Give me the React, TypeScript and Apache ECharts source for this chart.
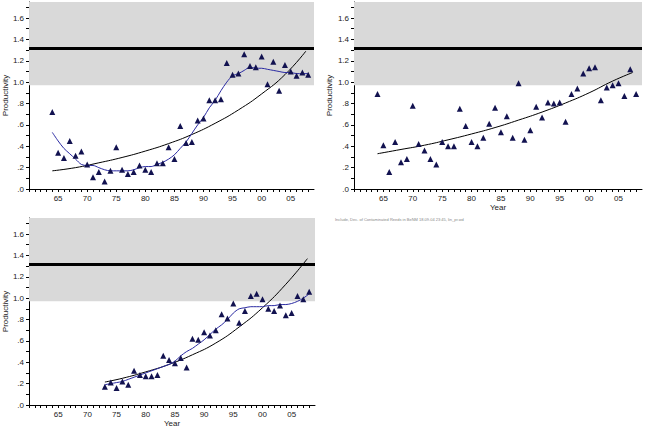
import React, { useEffect, useRef } from "react";
import * as echarts from "echarts";

// ---------- Data ----------
const years1 = [
  1964, 1965, 1966, 1967, 1968, 1969, 1970, 1971, 1972, 1973, 1974, 1975, 1976, 1977, 1978,
  1979, 1980, 1981, 1982, 1983, 1984, 1985, 1986, 1987, 1988, 1989, 1990, 1991, 1992, 1993,
  1994, 1995, 1996, 1997, 1998, 1999, 2000, 2001, 2002, 2003, 2004, 2005, 2006, 2007, 2008,
];
const values1 = [
  0.72, 0.34, 0.29, 0.45, 0.31, 0.35, 0.23, 0.11, 0.16, 0.07, 0.17, 0.39, 0.18, 0.14, 0.16,
  0.22, 0.18, 0.16, 0.24, 0.24, 0.39, 0.28, 0.59, 0.43, 0.44, 0.64, 0.66, 0.83, 0.83, 0.84,
  1.18, 1.07, 1.08, 1.26, 1.15, 1.14, 1.24, 0.98, 1.19, 0.92, 1.16, 1.1, 1.06, 1.09, 1.07,
];
const smooth1 = [
  0.53, 0.45, 0.38, 0.33, 0.28, 0.23, 0.22, 0.22, 0.2, 0.18, 0.17, 0.17, 0.17, 0.17, 0.18,
  0.2, 0.21, 0.21, 0.23, 0.25, 0.28, 0.32, 0.38, 0.44, 0.52, 0.6, 0.67, 0.76, 0.83, 0.92,
  1.0, 1.06, 1.08, 1.11, 1.14, 1.13, 1.13, 1.12, 1.11, 1.1, 1.09, 1.09, 1.08, 1.08, 1.08,
];
const fitYears1 = [1964, 1968, 1972, 1976, 1980, 1984, 1988, 1992, 1996, 2000, 2004, 2007.6];
const fitValues1 = [0.17, 0.2, 0.245, 0.295, 0.355, 0.425, 0.51, 0.615, 0.74, 0.89, 1.07, 1.29];

const years2 = years1;
const values2 = [
  0.89, 0.41, 0.16, 0.44, 0.25, 0.28, 0.78, 0.42, 0.36, 0.28, 0.23, 0.44, 0.4, 0.4, 0.75,
  0.59, 0.44, 0.4, 0.48, 0.61, 0.76, 0.53, 0.68, 0.48, 0.99, 0.46, 0.55, 0.77, 0.67, 0.81,
  0.8, 0.81, 0.63, 0.89, 0.94, 1.08, 1.13, 1.14, 0.83, 0.95, 0.97, 0.99, 0.87, 1.12, 0.89,
];
const fitYears2 = [1964, 1968, 1972, 1976, 1980, 1984, 1988, 1992, 1996, 2000, 2004, 2007.4];
const fitValues2 = [0.33, 0.37, 0.41, 0.46, 0.515, 0.575, 0.645, 0.72, 0.805, 0.9, 1.01, 1.09];

const years3 = [
  1973, 1974, 1975, 1976, 1977, 1978, 1979, 1980, 1981, 1982, 1983, 1984, 1985, 1986, 1987,
  1988, 1989, 1990, 1991, 1992, 1993, 1994, 1995, 1996, 1997, 1998, 1999, 2000, 2001, 2002,
  2003, 2004, 2005, 2006, 2007, 2008,
];
const values3 = [
  0.17, 0.21, 0.16, 0.22, 0.19, 0.32, 0.28, 0.27, 0.27, 0.28, 0.46, 0.42, 0.39, 0.44, 0.35,
  0.62, 0.61, 0.68, 0.65, 0.7, 0.85, 0.81, 0.95, 0.77, 0.88, 1.02, 1.04, 0.99, 0.9, 0.88,
  0.93, 0.84, 0.86, 1.02, 0.99, 1.06,
];
const smooth3 = [
  0.19, 0.2, 0.21, 0.22, 0.24, 0.26, 0.28, 0.3, 0.32, 0.34, 0.36, 0.38, 0.41, 0.46, 0.5,
  0.53, 0.57, 0.61, 0.66, 0.71, 0.75, 0.8, 0.86, 0.9, 0.91, 0.92, 0.92, 0.92, 0.93, 0.93,
  0.94, 0.94, 0.95, 0.97, 1.0, 1.04,
];
const fitYears3 = [1973, 1976, 1980, 1984, 1988, 1992, 1996, 2000, 2004, 2007.7];
const fitValues3 = [0.215, 0.25, 0.31, 0.38, 0.47, 0.58, 0.73, 0.91, 1.13, 1.37];

const bandLow = 0.97;
const bandHigh = 1.75;
const targetLine = 1.32;
const xMin = 1960;
const xMax = 2009;
const yMin = 0;
const yMax = 1.75;

const footnote = "Include, Dec. of Contaminated Reeds in BeNM 18.09.04 23:45, lin_pr.wd";

// ---------- Helpers ----------
const pairs = (xs: number[], ys: number[]) => xs.map((x, i) => [x, ys[i]]);

const yLabel = (v: number) => {
  const t = Math.round(v * 10);
  if (t % 2 !== 0) return "";
  const s = (t / 10).toFixed(1);
  return s.startsWith("0") ? s.slice(1) : s;
};
const xLabel = (v: number) => {
  const r = Math.round(v);
  if (r % 5 !== 0 || r === xMin) return "";
  return String(r % 100).padStart(2, "0");
};

const FONT = "Liberation Sans";
const MARK = "#121250";
const BLUE = "#2a2aa2";

export default function App() {
  const ref = useRef<HTMLDivElement>(null);

  useEffect(() => {
    document.body.style.margin = "0";
    if (!ref.current) return;
    const chart = echarts.init(ref.current, undefined, { renderer: "svg" });

    const grids = [
      { left: 28, top: 2, width: 286, height: 187 },
      { left: 354, top: 2, width: 288, height: 187 },
      { left: 27, top: 218, width: 288, height: 188 },
    ];
    const showYear = [false, true, true];

    const xAxes = grids.map((_, i) => ({
      type: "value",
      gridIndex: i,
      min: xMin,
      max: xMax,
      interval: 1,
      name: showYear[i] ? "Year" : "",
      nameLocation: "middle",
      nameGap: 14,
      nameTextStyle: { fontFamily: FONT, fontSize: 8, color: "#222" },
      axisLine: { show: true, onZero: false, lineStyle: { color: "#000", width: 1 } },
      axisTick: { show: true, length: 3, lineStyle: { color: "#000", width: 1 } },
      axisLabel: {
        formatter: xLabel,
        fontFamily: FONT,
        fontSize: 8,
        color: "#222",
        margin: 5,
        showMaxLabel: false,
      },
      splitLine: { show: false },
    }));

    const yAxes = grids.map((_, i) => ({
      type: "value",
      gridIndex: i,
      min: yMin,
      max: yMax,
      interval: 0.1,
      name: "Productivity",
      nameLocation: "middle",
      nameRotate: 90,
      nameGap: 18,
      nameTextStyle: { fontFamily: FONT, fontSize: 8, color: "#222" },
      axisLine: { show: true, lineStyle: { color: "#000", width: 1 } },
      axisTick: { show: true, length: 3, lineStyle: { color: "#000", width: 1 } },
      axisLabel: {
        formatter: yLabel,
        fontFamily: FONT,
        fontSize: 8,
        color: "#222",
        margin: 5,
        showMaxLabel: false,
      },
      splitLine: { show: false },
    }));

    const scatterSeries = (i: number, data: number[][]) => ({
      type: "scatter",
      xAxisIndex: i,
      yAxisIndex: i,
      data,
      symbol: "triangle",
      symbolSize: 6,
      itemStyle: { color: MARK, opacity: 1 },
      z: 5,
      markArea: {
        silent: true,
        itemStyle: { color: "#d9d9d9" },
        data: [[{ yAxis: bandLow }, { yAxis: bandHigh }]],
      },
      markLine: {
        silent: true,
        symbol: ["none", "none"],
        label: { show: false },
        lineStyle: { color: "#000", width: 3, type: "solid" },
        data: [{ yAxis: targetLine }],
      },
    });

    const lineSeries = (i: number, data: number[][], color: string, smooth: number | boolean) => ({
      type: "line",
      xAxisIndex: i,
      yAxisIndex: i,
      data,
      smooth,
      showSymbol: false,
      symbol: "none",
      lineStyle: { color, width: 1 },
      z: 4,
    });

    chart.setOption({
      animation: false,
      backgroundColor: "#fff",
      grid: grids,
      xAxis: xAxes,
      yAxis: yAxes,
      graphic: [
        {
          type: "text",
          left: 335,
          top: 217,
          style: { text: footnote, fontSize: 4, fill: "#888", fontFamily: FONT },
        },
      ],
      series: [
        scatterSeries(0, pairs(years1, values1)),
        lineSeries(0, pairs(fitYears1, fitValues1), "#000", true),
        lineSeries(0, pairs(years1, smooth1), BLUE, 0.3),
        scatterSeries(1, pairs(years2, values2)),
        lineSeries(1, pairs(fitYears2, fitValues2), "#000", true),
        scatterSeries(2, pairs(years3, values3)),
        lineSeries(2, pairs(fitYears3, fitValues3), "#000", true),
        lineSeries(2, pairs(years3, smooth3), BLUE, 0.3),
      ],
    });

    return () => chart.dispose();
  }, []);

  return <div ref={ref} style={{ width: 663, height: 428 }} />;
}
